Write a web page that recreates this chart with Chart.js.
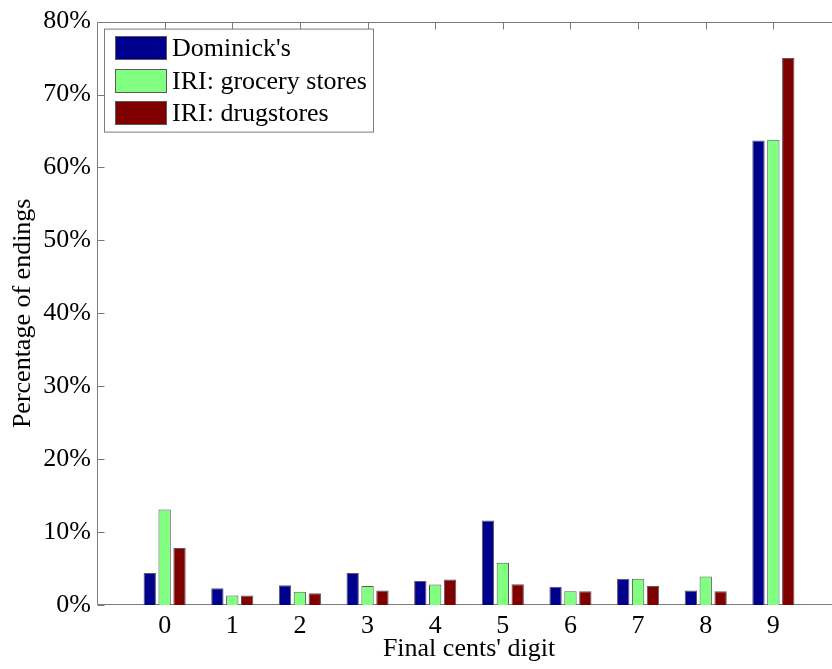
<!DOCTYPE html>
<html>
<head>
<meta charset="utf-8">
<script src="https://cdn.jsdelivr.net/npm/chart.js@4.4.1/dist/chart.umd.min.js"></script>
<style>
  html, body { margin: 0; padding: 0; background: #fff; overflow: hidden; }
  #wrap { width: 841px; height: 669px; }
</style>
</head>
<body>
<div id="wrap"><canvas id="c" width="841" height="669"></canvas></div>
<script>
// Final cents' digit of prices, share of all price endings (%)
const digits = [0, 1, 2, 3, 4, 5, 6, 7, 8, 9];
const dominicks  = [4.4, 2.3, 2.7, 4.4, 3.3, 11.6, 2.5, 3.6, 2.0, 63.7];
const iriGrocery = [13.1, 1.3, 1.8, 2.6, 2.8, 5.8, 1.9, 3.6, 3.9, 63.8];
const iriDrug    = [7.8, 1.3, 1.6, 2.0, 3.5, 2.85, 1.9, 2.6, 1.9, 75.0];
const yTicks = [0, 10, 20, 30, 40, 50, 60, 70, 80];

const seriesNames = ["Dominick's", 'IRI: grocery stores', 'IRI: drugstores'];
const seriesColors = ['#00008f', '#80ff80', '#800000'];

const FONT = '"Liberation Serif", "Times New Roman", serif';
const AXIS_GREY = '#7a7a7a';
const EDGE_GREY = '#5a5a5a';

const toPoints = vals => digits.map((d, i) => ({ x: d, y: vals[i] }));

// Box around the plot, with short inward tick marks
const framePlugin = {
  id: 'frame',
  beforeDatasetsDraw(chart) {
    const { ctx, chartArea: a, scales: { x, y } } = chart;
    ctx.save();
    ctx.strokeStyle = AXIS_GREY;
    ctx.lineWidth = 1;
    ctx.beginPath();
    const top = Math.round(a.top) + 0.5;
    const bottom = Math.round(a.bottom) - 0.5;
    const left = Math.round(a.left) + 0.5;
    ctx.moveTo(left, top); ctx.lineTo(a.right, top);
    ctx.moveTo(left, top); ctx.lineTo(left, bottom);
    ctx.moveTo(left, bottom); ctx.lineTo(a.right, bottom);
    x.ticks.forEach(t => {
      const px = Math.round(x.getPixelForValue(t.value)) + 0.5;
      ctx.moveTo(px, top); ctx.lineTo(px, top + 7);
      ctx.moveTo(px, bottom); ctx.lineTo(px, bottom - 7);
    });
    y.ticks.forEach(t => {
      const py = Math.round(y.getPixelForValue(t.value)) + 0.5;
      ctx.moveTo(left, py); ctx.lineTo(left + 7, py);
    });
    ctx.stroke();
    ctx.restore();
  }
};

// Boxed legend in the upper-left corner of the plot
const boxLegend = {
  id: 'boxLegend',
  afterDraw(chart) {
    const { ctx, chartArea: a } = chart;
    const sets = chart.data.datasets;
    const x0 = a.left + 7.5, y0 = a.top + 7.5;
    const swW = 52, swH = 24, rowH = 32.5, padL = 10, padT = 7, gap = 5;
    ctx.save();
    ctx.font = '26px ' + FONT;
    const textW = Math.max(...sets.map(s => ctx.measureText(s.label).width));
    const boxW = Math.round(padL + swW + gap + textW + 7);
    const boxH = Math.round(padT * 2 + rowH * sets.length - (rowH - swH));
    ctx.fillStyle = '#fff';
    ctx.fillRect(x0, y0, boxW, boxH);
    ctx.strokeStyle = AXIS_GREY;
    ctx.lineWidth = 1;
    ctx.strokeRect(x0, y0, boxW, boxH);
    sets.forEach((s, i) => {
      const sy = Math.round(y0 + padT + i * rowH);
      const sx = Math.round(x0 + padL);
      ctx.fillStyle = s.backgroundColor;
      ctx.fillRect(sx, sy, swW, swH);
      ctx.strokeStyle = EDGE_GREY;
      ctx.strokeRect(sx + 0.5, sy + 0.5, swW - 1, swH - 1);
      ctx.fillStyle = '#000';
      ctx.textBaseline = 'middle';
      ctx.textAlign = 'left';
      ctx.fillText(s.label, sx + swW + gap, sy + swH / 2 + 1);
    });
    ctx.restore();
  }
};

const datasets = [dominicks, iriGrocery, iriDrug].map((vals, i) => ({
  label: seriesNames[i],
  data: toPoints(vals),
  backgroundColor: seriesColors[i],
  borderColor: EDGE_GREY,
  borderWidth: 1,
  borderSkipped: 'bottom',
  categoryPercentage: 0.66,
  barPercentage: 0.83
}));

new Chart(document.getElementById('c'), {
  type: 'bar',
  data: { datasets },
  options: {
    responsive: false,
    animation: false,
    devicePixelRatio: 1,
    layout: { padding: { top: 16, right: 0, bottom: 0, left: 0 } },
    plugins: { legend: { display: false }, tooltip: { enabled: false } },
    scales: {
      x: {
        type: 'linear',
        offset: false,
        min: -1,
        max: 10,
        afterBuildTicks: s => { s.ticks = digits.map(v => ({ value: v })); },
        afterFit: s => { s.height = 64; },
        grid: { display: false, drawTicks: false, offset: false },
        border: { display: false },
        ticks: {
          color: '#000',
          padding: 6,
          autoSkip: false,
          maxRotation: 0,
          font: { family: FONT, size: 26 },
          callback: v => String(v)
        },
        title: {
          display: true,
          text: "Final cents' digit",
          color: '#000',
          font: { family: FONT, size: 26 },
          padding: { top: 0, bottom: 4 }
        }
      },
      y: {
        min: 0,
        max: 80,
        afterBuildTicks: s => { s.ticks = yTicks.map(v => ({ value: v })); },
        afterFit: s => { s.width = 97; },
        grid: { display: false, drawTicks: false },
        border: { display: false },
        ticks: {
          color: '#000',
          padding: 6,
          font: { family: FONT, size: 26 },
          callback: v => v + '%'
        },
        title: {
          display: true,
          text: 'Percentage of endings',
          color: '#000',
          font: { family: FONT, size: 26 },
          padding: { top: 8, bottom: 0 }
        }
      }
    }
  },
  plugins: [framePlugin, boxLegend]
});
</script>
</body>
</html>
